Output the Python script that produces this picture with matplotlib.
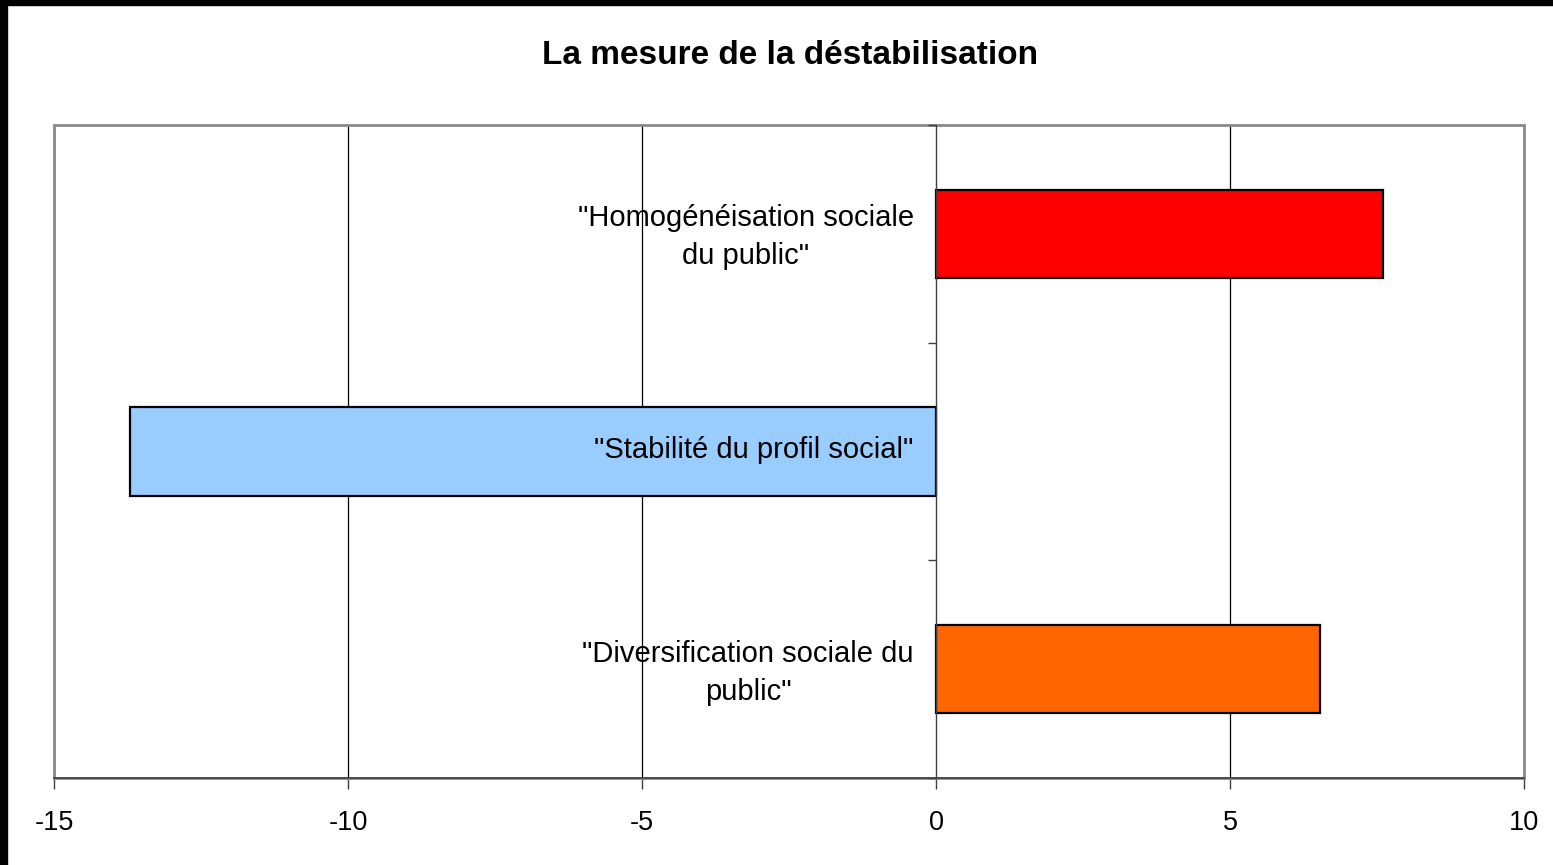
import matplotlib.pyplot as plt
from matplotlib.patches import Rectangle

plt.rcParams['font.family'] = ['Liberation Sans', 'DejaVu Sans']

# données (de haut en bas)
categories = ['"Homogénéisation sociale\ndu public"',
              '"Stabilité du profil social"',
              '"Diversification sociale du\npublic"']
values = [7.6, -13.7, 6.53]
colors = ['#FF0000', '#99CCFF', '#FF6600']
xticks = [-15, -10, -5, 0, 5, 10]

fig = plt.figure(figsize=(15.53, 8.65), dpi=100)
ax = fig.add_axes([54 / 1553, 1 - 778 / 865, 1470 / 1553, 653 / 865])

pos = list(range(len(categories)))
ax.barh(pos, values, height=0.405, color=colors, edgecolor='black', linewidth=1.6, zorder=3)

ax.set_xlim(-15, 10)
ax.set_ylim(2.5, -0.5)

# grille verticale
for x in xticks:
    if x not in (-15, 0, 10):
        ax.axvline(x, color='black', linewidth=0.9, zorder=1)

ax.set_xticks(xticks)
ax.set_xticklabels([str(x) for x in xticks])
ax.tick_params(axis='x', direction='out', length=8, width=1, color='#404040',
               labelsize=19.5, pad=15)

# axe des catégories sur x = 0
ax.spines['left'].set_position(('data', 0))
ax.spines['left'].set_color('#404040')
ax.spines['left'].set_linewidth(1)
ax.spines['left'].set_zorder(4)
ax.set_yticks([-0.5, 0.5, 1.5, 2.5])
ax.set_yticklabels([])
ax.tick_params(axis='y', which='major', direction='out', length=6, width=1, color='#404040')
# étiquettes légèrement au-dessus du centre des barres
ax.set_yticks([p - 0.02 for p in pos], minor=True)
ax.set_yticklabels(categories, minor=True)
ax.tick_params(axis='y', which='minor', length=0, labelsize=21, pad=16)
for lab in ax.get_yticklabels(minor=True):
    lab.set_multialignment('center')
    lab.set_linespacing(1.45)
ax.yaxis.set_zorder(5)

ax.spines['bottom'].set_color('#404040')
ax.spines['bottom'].set_linewidth(1.2)
for s in ('top', 'right'):
    ax.spines[s].set_visible(False)

# cadre gris de la zone de tracé
ax.add_patch(Rectangle((0, 0), 1, 1, transform=ax.transAxes, fill=False,
                       edgecolor='#888888', linewidth=2, zorder=2, clip_on=False))

fig.text(790 / 1553, 1 - 55 / 865, 'La mesure de la déstabilisation',
         ha='center', va='center', fontsize=24, fontweight='bold')

# bordure noire en haut et à gauche
fig.patches.append(Rectangle((0, 1 - 5 / 865), 1, 5 / 865, transform=fig.transFigure,
                             color='black', zorder=10))
fig.patches.append(Rectangle((0, 0), 7 / 1553, 1, transform=fig.transFigure,
                             color='black', zorder=10))

fig.savefig('out.png', dpi=100)
